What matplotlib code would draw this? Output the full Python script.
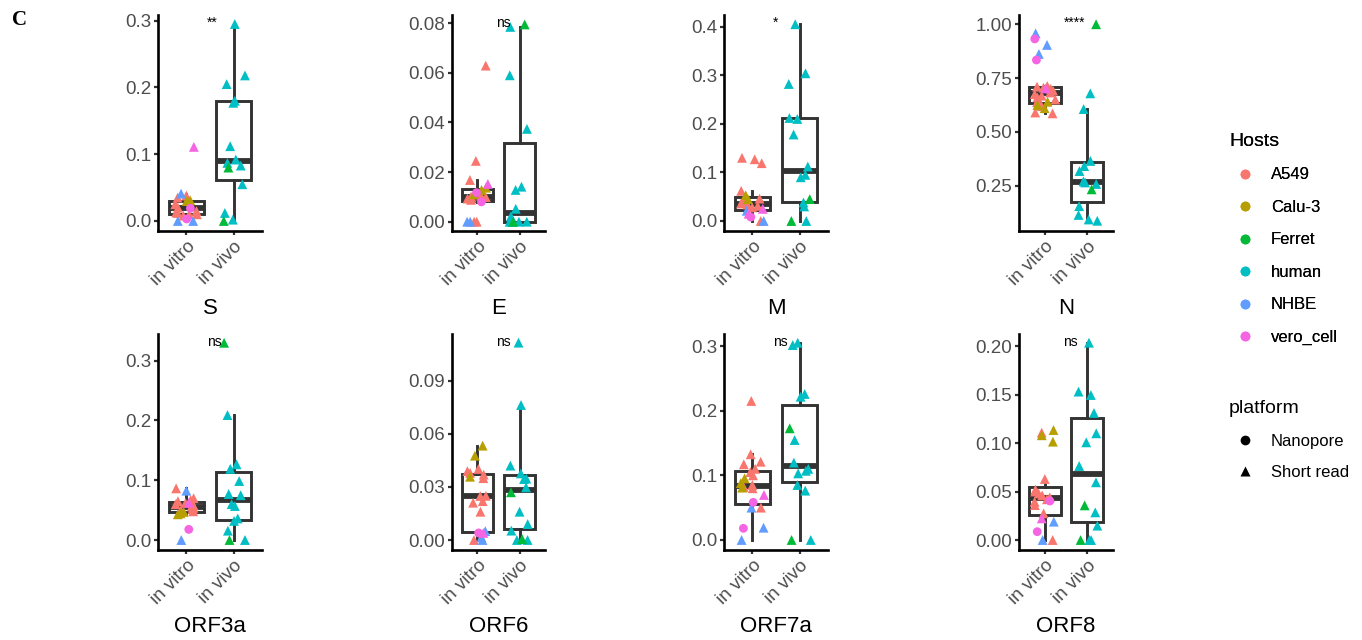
import numpy as np
import matplotlib
matplotlib.use("Agg")
import matplotlib.pyplot as plt
from matplotlib.lines import Line2D
from matplotlib.transforms import blended_transform_factory

plt.rcParams["font.family"] = ["Liberation Sans", "DejaVu Sans"]

# host colours (ggplot default hue palette)
host_names = ["A549", "Calu-3", "Ferret", "human", "NHBE", "vero_cell"]
host_colors = ["#F8766D", "#B79F00", "#00BA38", "#00BFC4", "#619CFF", "#F564E3"]
platform_names = ["Nanopore", "Short read"]

genes = ["S", "E", "M", "N", "ORF3a", "ORF6", "ORF7a", "ORF8"]
signif = ["**", "ns", "*", "****", "ns", "ns", "ns", "ns"]
groups = ["in vitro", "in vivo"]

# (host, platform, value) ; SR = Short read, NP = Nanopore
S_vitro = [("A549", "SR", 0.035), ("A549", "SR", 0.038), ("A549", "SR", 0.030), ("A549", "SR", 0.025),
           ("A549", "SR", 0.020), ("A549", "SR", 0.015), ("A549", "SR", 0.013), ("A549", "SR", 0.012),
           ("A549", "SR", 0.010), ("A549", "SR", 0.010), ("A549", "SR", 0.008),
           ("Calu-3", "SR", 0.030), ("Calu-3", "SR", 0.031),
           ("NHBE", "SR", 0.041), ("NHBE", "SR", 0.0), ("NHBE", "SR", 0.0),
           ("vero_cell", "NP", 0.019), ("vero_cell", "NP", 0.003), ("vero_cell", "SR", 0.111)]
S_vivo = [("human", "SR", 0.295), ("human", "SR", 0.218), ("human", "SR", 0.205), ("human", "SR", 0.180),
          ("human", "SR", 0.177), ("human", "SR", 0.112), ("human", "SR", 0.092), ("human", "SR", 0.087),
          ("human", "SR", 0.083), ("human", "SR", 0.055), ("human", "SR", 0.012), ("human", "SR", 0.002),
          ("Ferret", "SR", 0.080), ("Ferret", "SR", 0.0)]

E_vitro = [("A549", "SR", 0.0629), ("A549", "SR", 0.0245), ("A549", "SR", 0.0168), ("A549", "SR", 0.0105),
           ("A549", "SR", 0.0101), ("A549", "SR", 0.0099), ("A549", "SR", 0.0097), ("A549", "SR", 0.0093),
           ("A549", "SR", 0.0088), ("A549", "SR", 0.0), ("A549", "SR", 0.0),
           ("Calu-3", "SR", 0.0137), ("Calu-3", "SR", 0.0128), ("Calu-3", "SR", 0.011),
           ("NHBE", "SR", 0.0), ("NHBE", "SR", 0.0),
           ("vero_cell", "SR", 0.0152), ("vero_cell", "NP", 0.0117), ("vero_cell", "NP", 0.008)]
E_vivo = [("human", "SR", 0.0785), ("human", "SR", 0.059), ("human", "SR", 0.0374), ("human", "SR", 0.0141),
          ("human", "SR", 0.0128), ("human", "SR", 0.0052), ("human", "SR", 0.0022), ("human", "SR", 0.0),
          ("human", "SR", 0.0), ("human", "SR", 0.0), ("human", "SR", 0.0), ("human", "SR", 0.0),
          ("Ferret", "SR", 0.0795), ("Ferret", "SR", 0.0)]

M_vitro = [("A549", "SR", 0.130), ("A549", "SR", 0.127), ("A549", "SR", 0.119), ("A549", "SR", 0.062),
           ("A549", "SR", 0.046), ("A549", "SR", 0.043), ("A549", "SR", 0.040), ("A549", "SR", 0.036),
           ("A549", "SR", 0.034), ("A549", "SR", 0.031), ("A549", "SR", 0.028), ("A549", "SR", 0.0),
           ("Calu-3", "SR", 0.053), ("Calu-3", "SR", 0.045),
           ("NHBE", "SR", 0.021), ("NHBE", "SR", 0.0),
           ("vero_cell", "SR", 0.025), ("vero_cell", "SR", 0.015), ("vero_cell", "NP", 0.008)]
M_vivo = [("human", "SR", 0.405), ("human", "SR", 0.304), ("human", "SR", 0.282), ("human", "SR", 0.212),
          ("human", "SR", 0.210), ("human", "SR", 0.178), ("human", "SR", 0.112), ("human", "SR", 0.095),
          ("human", "SR", 0.090), ("human", "SR", 0.038), ("human", "SR", 0.030), ("human", "SR", 0.0),
          ("Ferret", "SR", 0.045), ("Ferret", "SR", 0.0)]

N_vitro = [("A549", "SR", 0.713), ("A549", "SR", 0.710), ("A549", "SR", 0.705), ("A549", "SR", 0.700),
           ("A549", "SR", 0.692), ("A549", "SR", 0.683), ("A549", "SR", 0.675), ("A549", "SR", 0.668),
           ("A549", "SR", 0.660), ("A549", "SR", 0.650), ("A549", "SR", 0.638), ("A549", "SR", 0.628),
           ("A549", "SR", 0.620), ("A549", "SR", 0.590), ("A549", "SR", 0.586),
           ("Calu-3", "SR", 0.640), ("Calu-3", "SR", 0.625), ("Calu-3", "SR", 0.610),
           ("NHBE", "SR", 0.958), ("NHBE", "SR", 0.904), ("NHBE", "SR", 0.862),
           ("vero_cell", "NP", 0.932), ("vero_cell", "NP", 0.834), ("vero_cell", "SR", 0.702)]
N_vivo = [("human", "SR", 0.679), ("human", "SR", 0.606), ("human", "SR", 0.365), ("human", "SR", 0.341),
          ("human", "SR", 0.318), ("human", "SR", 0.270), ("human", "SR", 0.265), ("human", "SR", 0.258),
          ("human", "SR", 0.155), ("human", "SR", 0.114), ("human", "SR", 0.093), ("human", "SR", 0.087),
          ("Ferret", "SR", 1.0), ("Ferret", "SR", 0.233)]

ORF3a_vitro = [("A549", "SR", 0.0864), ("A549", "SR", 0.070), ("A549", "SR", 0.067), ("A549", "SR", 0.065),
               ("A549", "SR", 0.062), ("A549", "SR", 0.060), ("A549", "SR", 0.058), ("A549", "SR", 0.056),
               ("A549", "SR", 0.054), ("A549", "SR", 0.052), ("A549", "SR", 0.050), ("A549", "SR", 0.048),
               ("Calu-3", "SR", 0.0446), ("Calu-3", "SR", 0.043), ("Calu-3", "SR", 0.047),
               ("NHBE", "SR", 0.0825), ("NHBE", "SR", 0.0),
               ("vero_cell", "SR", 0.0625), ("vero_cell", "NP", 0.0178)]
ORF3a_vivo = [("human", "SR", 0.209), ("human", "SR", 0.1266), ("human", "SR", 0.119), ("human", "SR", 0.0987),
              ("human", "SR", 0.077), ("human", "SR", 0.075), ("human", "SR", 0.060), ("human", "SR", 0.0569),
              ("human", "SR", 0.036), ("human", "SR", 0.032), ("human", "SR", 0.0156), ("human", "SR", 0.0),
              ("Ferret", "SR", 0.330), ("Ferret", "SR", 0.0)]

ORF6_vitro = [("A549", "SR", 0.0402), ("A549", "SR", 0.039), ("A549", "SR", 0.038), ("A549", "SR", 0.037),
              ("A549", "SR", 0.035), ("A549", "SR", 0.0249), ("A549", "SR", 0.025), ("A549", "SR", 0.022),
              ("A549", "SR", 0.0211), ("A549", "SR", 0.016), ("A549", "SR", 0.0),
              ("Calu-3", "SR", 0.0534), ("Calu-3", "SR", 0.0477), ("Calu-3", "SR", 0.0358),
              ("NHBE", "SR", 0.005), ("NHBE", "SR", 0.0015), ("NHBE", "SR", 0.0),
              ("vero_cell", "NP", 0.004), ("vero_cell", "SR", 0.004)]
ORF6_vivo = [("human", "SR", 0.1117), ("human", "SR", 0.0764), ("human", "SR", 0.0421), ("human", "SR", 0.0377),
             ("human", "SR", 0.0348), ("human", "SR", 0.0345), ("human", "SR", 0.0298), ("human", "SR", 0.016),
             ("human", "SR", 0.009), ("human", "SR", 0.0053), ("human", "SR", 0.0), ("human", "SR", 0.0),
             ("Ferret", "SR", 0.027), ("Ferret", "SR", 0.0005)]

ORF7a_vitro = [("A549", "SR", 0.215), ("A549", "SR", 0.1325), ("A549", "SR", 0.121), ("A549", "SR", 0.117),
               ("A549", "SR", 0.110), ("A549", "SR", 0.105), ("A549", "SR", 0.100), ("A549", "SR", 0.085),
               ("A549", "SR", 0.082), ("A549", "SR", 0.080), ("A549", "SR", 0.050),
               ("Calu-3", "SR", 0.0954), ("Calu-3", "SR", 0.088), ("Calu-3", "SR", 0.081),
               ("NHBE", "SR", 0.050), ("NHBE", "SR", 0.019), ("NHBE", "SR", 0.0),
               ("vero_cell", "SR", 0.0696), ("vero_cell", "NP", 0.0582), ("vero_cell", "NP", 0.018)]
ORF7a_vivo = [("human", "SR", 0.305), ("human", "SR", 0.3015), ("human", "SR", 0.2258), ("human", "SR", 0.2216),
              ("human", "SR", 0.1546), ("human", "SR", 0.1196), ("human", "SR", 0.110), ("human", "SR", 0.107),
              ("human", "SR", 0.103), ("human", "SR", 0.085), ("human", "SR", 0.0763), ("human", "SR", 0.0),
              ("Ferret", "SR", 0.1727), ("Ferret", "SR", 0.0)]

ORF8_vitro = [("A549", "SR", 0.1107), ("A549", "SR", 0.0629), ("A549", "SR", 0.052), ("A549", "SR", 0.050),
              ("A549", "SR", 0.048), ("A549", "SR", 0.046), ("A549", "SR", 0.044), ("A549", "SR", 0.042),
              ("A549", "SR", 0.0395), ("A549", "SR", 0.036), ("A549", "SR", 0.0275), ("A549", "SR", 0.0),
              ("Calu-3", "SR", 0.1134), ("Calu-3", "SR", 0.108), ("Calu-3", "SR", 0.1014),
              ("NHBE", "SR", 0.0189), ("NHBE", "SR", 0.0),
              ("vero_cell", "NP", 0.0402), ("vero_cell", "SR", 0.0223), ("vero_cell", "NP", 0.0086)]
ORF8_vivo = [("human", "SR", 0.2034), ("human", "SR", 0.153), ("human", "SR", 0.1495), ("human", "SR", 0.131),
             ("human", "SR", 0.110), ("human", "SR", 0.1007), ("human", "SR", 0.0763), ("human", "SR", 0.0595),
             ("human", "SR", 0.0285), ("human", "SR", 0.0148), ("human", "SR", 0.0), ("human", "SR", 0.0),
             ("Ferret", "SR", 0.0357), ("Ferret", "SR", 0.0)]

gene_data = {
    "S": (S_vitro, S_vivo), "E": (E_vitro, E_vivo), "M": (M_vitro, M_vivo), "N": (N_vitro, N_vivo),
    "ORF3a": (ORF3a_vitro, ORF3a_vivo), "ORF6": (ORF6_vitro, ORF6_vivo),
    "ORF7a": (ORF7a_vitro, ORF7a_vivo), "ORF8": (ORF8_vitro, ORF8_vivo),
}

y_ticks = {
    "S": [0, 0.1, 0.2, 0.3], "E": [0, 0.02, 0.04, 0.06, 0.08], "M": [0, 0.1, 0.2, 0.3, 0.4],
    "N": [0.25, 0.5, 0.75, 1.0], "ORF3a": [0, 0.1, 0.2, 0.3], "ORF6": [0, 0.03, 0.06, 0.09],
    "ORF7a": [0, 0.1, 0.2, 0.3], "ORF8": [0, 0.05, 0.1, 0.15, 0.2],
}
y_fmt = {"S": "%.1f", "E": "%.2f", "M": "%.1f", "N": "%.2f",
         "ORF3a": "%.1f", "ORF6": "%.2f", "ORF7a": "%.1f", "ORF8": "%.2f"}
y_lims = {
    "S": (-0.015, 0.3085), "E": (-0.00375, 0.0833), "M": (-0.0206, 0.424), "N": (0.0395, 1.043),
    "ORF3a": (-0.0167, 0.3447), "ORF6": (-0.00566, 0.1166), "ORF7a": (-0.0155, 0.3186),
    "ORF8": (-0.0103, 0.2124),
}

W, H = 1362, 640
fig = plt.figure(figsize=(W / 100, H / 100), dpi=100)

# axes placement in pixels: (left, right) per column, (top, bottom) per row
col_px = [(158, 262), (452, 545), (724, 828), (1019, 1113)]
row_px = [(15, 231), (334, 550)]

color_of = dict(zip(host_names, host_colors))
marker_of = {"SR": "^", "NP": "o"}
box_color = "#333333"
rng = np.random.default_rng(11)

for i, gene in enumerate(genes):
    r, c = divmod(i, 4)
    x0, x1 = col_px[c]
    top, bot = row_px[r]
    ax = fig.add_axes([x0 / W, 1 - bot / H, (x1 - x0) / W, (bot - top) / H])

    vitro, vivo = gene_data[gene]
    vals = [[p[2] for p in vitro], [p[2] for p in vivo]]
    ax.boxplot(vals, positions=[1, 2], widths=0.75, showfliers=False, showcaps=False,
               patch_artist=True, whis=1.5, zorder=2,
               boxprops=dict(facecolor="white", edgecolor=box_color, linewidth=2.1),
               medianprops=dict(color=box_color, linewidth=4.2, solid_capstyle="butt"),
               whiskerprops=dict(color=box_color, linewidth=2.1))

    for pos, pts in zip([1, 2], [vitro, vivo]):
        xj = pos + rng.uniform(-0.25, 0.25, len(pts))
        for (host, plat, v), x in zip(pts, xj):
            ax.scatter(x, v, s=50 if plat == "SR" else 40, marker=marker_of[plat],
                       color=color_of[host], edgecolors="none", zorder=3)

    ax.set_xlim(0.4, 2.6)
    ax.set_ylim(*y_lims[gene])
    ax.set_xticks([1, 2])
    ax.set_xticklabels(groups, rotation=45, ha="right", rotation_mode="anchor")
    ax.set_yticks(y_ticks[gene])
    ax.set_yticklabels([y_fmt[gene] % t for t in y_ticks[gene]])
    ax.tick_params(axis="both", labelsize=13.5, labelcolor="#4D4D4D", color="#333333",
                   length=3, width=1.6, pad=2)
    for side in ["top", "right"]:
        ax.spines[side].set_visible(False)
    for side in ["left", "bottom"]:
        ax.spines[side].set_linewidth(1.9)
        ax.spines[side].set_color("black")
    ax.set_facecolor("none")

    ax.set_xlabel(gene, fontsize=16, color="black")
    ax.xaxis.label.set_va("center")
    ax.xaxis.set_label_coords(0.5, -(308 - 231) / (bot - top))

    trans = blended_transform_factory(ax.transData, ax.transAxes)
    ax.text(1.44, 0.995, signif[i], transform=trans, ha="left", va="top",
            fontsize=10, color="black")

fig.text(12 / W, 1 - 20 / H, "C", fontsize=15, fontweight="bold",
         family=["Liberation Serif", "DejaVu Serif"], va="center", ha="left")

host_handles = [Line2D([], [], marker="o", linestyle="none", markersize=7,
                       markerfacecolor=col, markeredgecolor="none") for col in host_colors]
leg1 = fig.legend(host_handles, host_names, title="Hosts", loc="upper left",
                  bbox_to_anchor=(1222.5 / W, 1 - 126.3 / H), frameon=False, fontsize=12,
                  title_fontsize=14, alignment="left", borderpad=0.4, borderaxespad=0,
                  handlelength=1.9, handletextpad=0.6, labelspacing=1.05)
plat_handles = [Line2D([], [], marker=m, linestyle="none", markersize=7,
                       markerfacecolor="black", markeredgecolor="none") for m in ["o", "^"]]
leg2 = fig.legend(plat_handles, platform_names, title="platform", loc="upper left",
                  bbox_to_anchor=(1222.5 / W, 1 - 393.3 / H), frameon=False, fontsize=12,
                  title_fontsize=14, alignment="left", borderpad=0.4, borderaxespad=0,
                  handlelength=1.9, handletextpad=0.6, labelspacing=1.0)
fig.add_artist(leg1)

fig.savefig("out.png", dpi=100)
